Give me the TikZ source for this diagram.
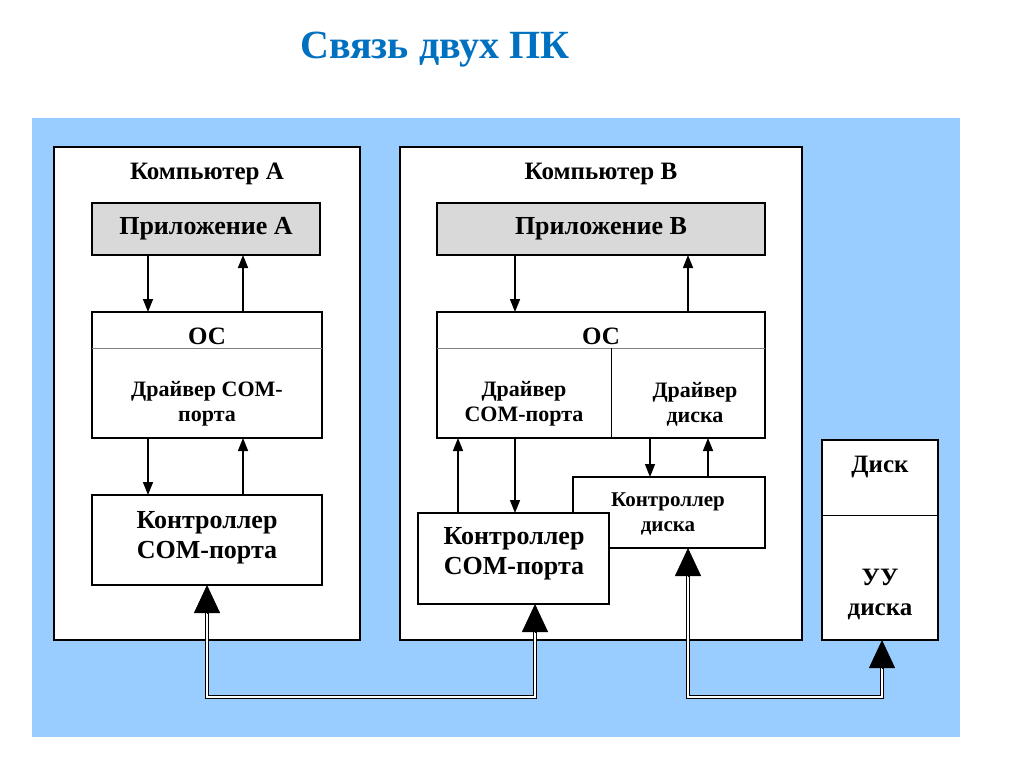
\documentclass[tikz,border=0pt]{standalone}
\usepackage{fontspec}
\setmainfont{Liberation Serif}
\usetikzlibrary{arrows.meta}
\definecolor{bg}{RGB}{153,204,255}
\definecolor{ttl}{RGB}{0,112,192}
\definecolor{gr}{RGB}{217,217,217}
\begin{document}
\begin{tikzpicture}[x=1pt,y=-1pt,
  comp/.style={draw,line width=2.5pt,fill=white},
  box/.style={draw,line width=1.2pt,fill=white},
  app/.style={draw,line width=1.2pt,fill=gr},
  lbl/.style={font=\bfseries\fontsize{25}{28}\selectfont,align=center,yshift=-4pt},
  ar/.style={line width=1.5pt,-{Triangle[width=10pt,length=13pt]}},
  big/.style={line width=0.8pt,-{Triangle[width=26pt,length=28pt]}},
  dbl/.style={line width=0.8pt,double,double distance=2.5pt}]
\useasboundingbox (0,0) rectangle (1024,767);
\fill[white] (0,0) rectangle (1024,767);
\node[text=ttl,font=\bfseries\fontsize{40}{44}\selectfont,yshift=-5pt] (title) at (435,45) {Связь двух ПК};
\fill[bg] (32,118) rectangle (960,737);
% Computer A
\draw[comp] (54,147) rectangle (360,640);
\node[lbl] (ca) at (207,170) {Компьютер А};
\draw[app] (92,203) rectangle (320,255);
\node[lbl,font=\bfseries\fontsize{26}{28}\selectfont] (appA) at (206,225) {Приложение А};
\draw[box] (92,312) rectangle (322,438);
\draw[gray,line width=0.6pt] (92,348) -- (322,348);
\node[lbl] (osA) at (207,332) {ОС};
\node[lbl,font=\bfseries\fontsize{22}{25}\selectfont] (drA) at (207,400) {Драйвер СОМ-\\порта};
\draw[box] (92,495) rectangle (322,585);
\node[lbl,font=\bfseries\fontsize{26}{30}\selectfont] (ctA) at (207,534) {Контроллер\\СОМ-порта};
\coordinate (a1) at (148,255); \coordinate (a2) at (148,312);
\coordinate (a3) at (243,312); \coordinate (a4) at (243,255);
\coordinate (a5) at (148,438); \coordinate (a6) at (148,495);
\coordinate (a7) at (243,495); \coordinate (a8) at (243,438);
\draw[ar] (a1) -- (a2); \draw[ar] (a3) -- (a4);
\draw[ar] (a5) -- (a6); \draw[ar] (a7) -- (a8);
% Computer B
\draw[comp] (400,147) rectangle (802,640);
\node[lbl] (cb) at (601,170) {Компьютер В};
\draw[app] (437,203) rectangle (765,255);
\node[lbl,font=\bfseries\fontsize{26}{28}\selectfont] (appB) at (601,225) {Приложение В};
\draw[box] (437,312) rectangle (765,438);
\draw[gray,line width=0.6pt] (437,348) -- (765,348);
\draw[line width=0.6pt] (611,348) -- (611,438);
\node[lbl] (osB) at (601,332) {ОС};
\node[lbl,font=\bfseries\fontsize{22}{25}\selectfont] (drB1) at (524,400) {Драйвер\\СОМ-порта};
\node[lbl,font=\bfseries\fontsize{22}{25}\selectfont] (drB2) at (695,400) {Драйвер\\диска};
\draw[box] (573,477) rectangle (765,548);
\node[lbl,font=\bfseries\fontsize{21}{25}\selectfont] (dcB) at (668,510) {Контроллер\\диска};
\draw[box] (418,513) rectangle (609,604);
\node[lbl,font=\bfseries\fontsize{26}{30}\selectfont] (ctB) at (514,550) {Контроллер\\СОМ-порта};
\coordinate (b1) at (515,255); \coordinate (b2) at (515,312);
\coordinate (b3) at (688,312); \coordinate (b4) at (688,255);
\coordinate (b5) at (458,513); \coordinate (b6) at (458,438);
\coordinate (b7) at (515,438); \coordinate (b8) at (515,513);
\coordinate (b9) at (650,438); \coordinate (b10) at (650,477);
\coordinate (b11) at (708,477); \coordinate (b12) at (708,438);
\draw[ar] (b1) -- (b2); \draw[ar] (b3) -- (b4);
\draw[ar] (b5) -- (b6); \draw[ar] (b7) -- (b8);
\draw[ar] (b9) -- (b10); \draw[ar] (b11) -- (b12);
% Disk
\draw[comp] (822,440) rectangle (938,640);
\draw[line width=0.6pt] (822,515) -- (938,515);
\node[lbl] (disk) at (880,463) {Диск};
\node[lbl,font=\bfseries\fontsize{25}{30}\selectfont] (uu) at (880,590) {УУ\\диска};
% bus lines
\coordinate (pA) at (207,585); \coordinate (pB) at (535,604);
\coordinate (pC) at (688,548); \coordinate (pD) at (882,640);
\draw[dbl] (207,612) |- (535,697) -- (535,632);
\draw[dbl] (688,576) |- (882,697) -- (882,668);
\draw[big] (207,613) -- (pA);
\draw[big] (535,632) -- (pB);
\draw[big] (688,576) -- (pC);
\draw[big] (882,668) -- (pD);
\end{tikzpicture}
\end{document}
